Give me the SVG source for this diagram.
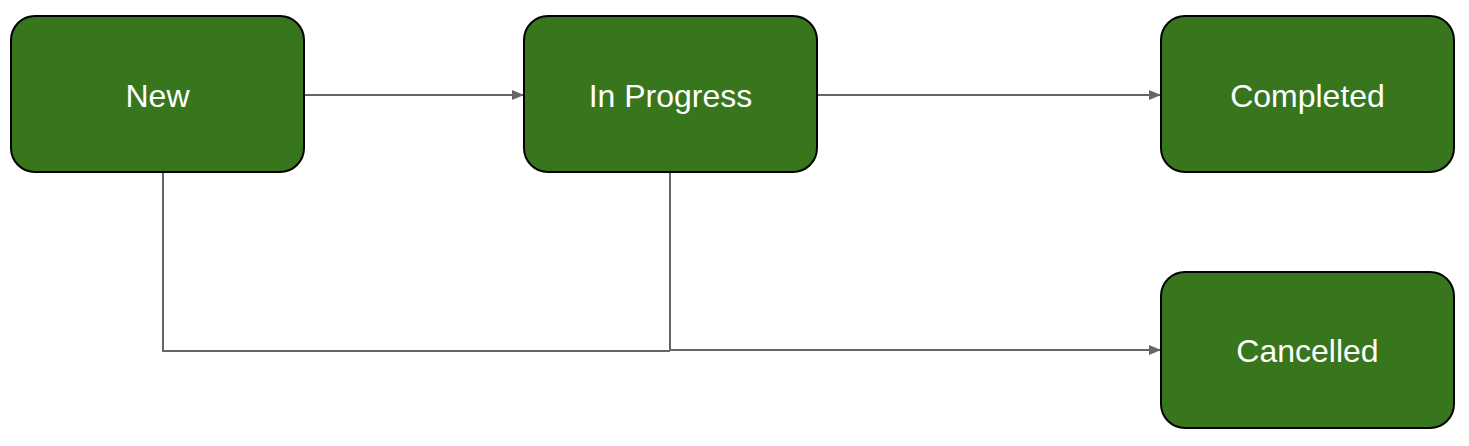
<svg xmlns="http://www.w3.org/2000/svg" width="1469" height="446" viewBox="0 0 1469 446">
<style>
.n{fill:#38761d;stroke:#000;stroke-width:2}
.t{fill:#fff;font-family:"Liberation Sans",Arial,sans-serif;font-size:32px;text-anchor:middle;dominant-baseline:central}
.c{fill:none;stroke:#666;stroke-width:2}
</style>
<defs><marker id="a" markerWidth="12" markerHeight="10" refX="11" refY="5" orient="auto" markerUnits="userSpaceOnUse"><path d="M0,0L12,5L0,10z" fill="#666"/></marker></defs>
<rect width="1469" height="446" fill="#fff"/>
<g id="connectors">
<path class="c" d="M304,95H523" marker-end="url(#a)"/>
<path class="c" d="M817,95H1160" marker-end="url(#a)"/>
<path class="c" d="M163,172V351H670"/>
<path class="c" d="M670,172V350H1160" marker-end="url(#a)"/>
</g>
<g id="new"><rect class="n" x="11" y="16" width="293" height="156" rx="24"/><text class="t" x="157.5" y="96">New</text></g>
<g id="inprogress"><rect class="n" x="524" y="16" width="293" height="156" rx="24"/><text class="t" x="670.5" y="96">In Progress</text></g>
<g id="completed"><rect class="n" x="1161" y="16" width="293" height="156" rx="24"/><text class="t" x="1307.5" y="96">Completed</text></g>
<g id="cancelled"><rect class="n" x="1161" y="272" width="293" height="156" rx="24"/><text class="t" x="1307.5" y="351">Cancelled</text></g>
</svg>
